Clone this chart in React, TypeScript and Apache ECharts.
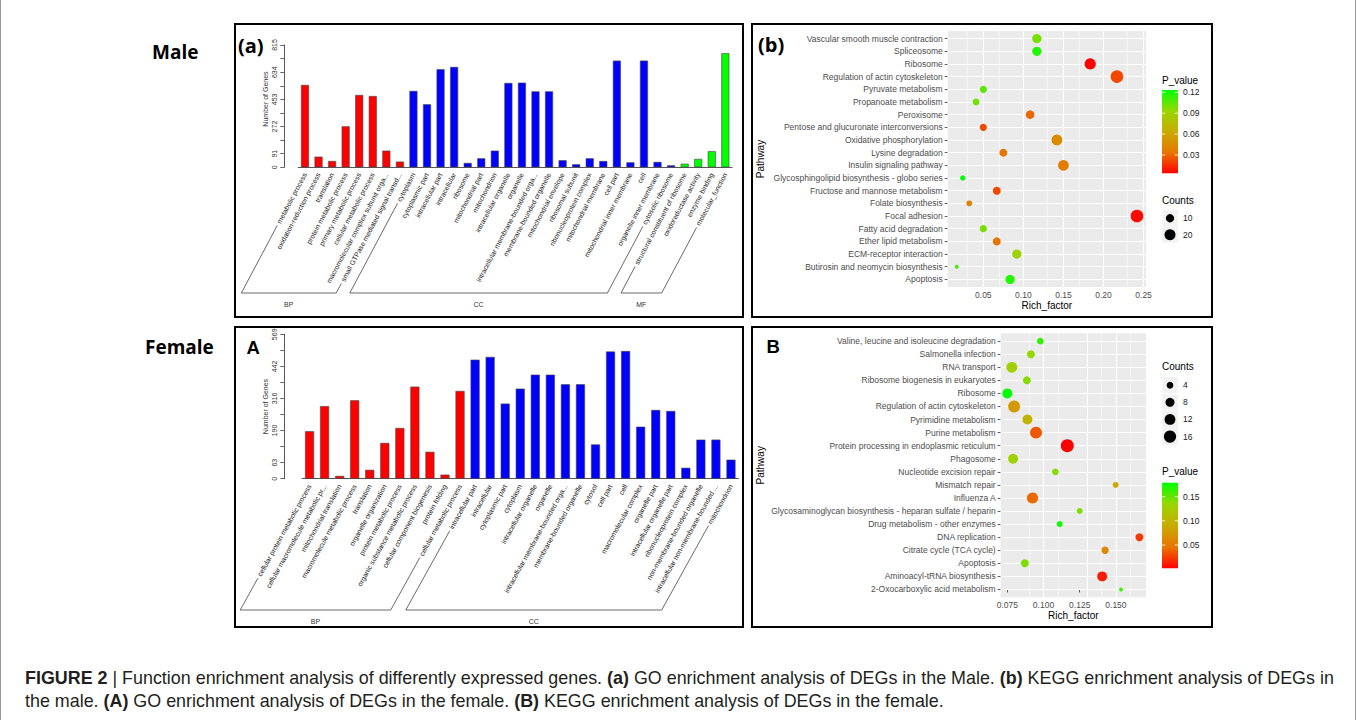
import React, { useEffect, useRef } from "react";
import * as echarts from "echarts";

const FONT = '"Liberation Sans", Arial, Helvetica, sans-serif';
const TITLE_FONT = '"Open Sans", "Liberation Sans", Arial, sans-serif';

// ---------- (a) GO enrichment, male ----------
const maleGoTerms = [
  "metabolic process", "oxidation-reduction process", "translation", "protein metabolic process",
  "primary metabolic process", "cellular metabolic process", "macromolecular complex subunit orga...",
  "small GTPase mediated signal transd...", "cytoplasm", "cytoplasmic part", "intracellular part",
  "intracellular", "ribosome", "mitochondrial part", "mitochondrion", "intracellular organelle",
  "organelle", "intracellular membrane-bounded orga...", "membrane-bounded organelle",
  "mitochondrial envelope", "ribosomal subunit", "ribonucleoprotein complex", "mitochondrial membrane",
  "cell part", "mitochondrial inner membrane", "cell", "organelle inner membrane", "cytosolic ribosome",
  "structural constituent of ribosome", "oxidoreductase activity", "enzyme binding", "molecular_function",
];
const maleGoGroups = [
  "BP", "BP", "BP", "BP", "BP", "BP", "BP", "BP",
  "CC", "CC", "CC", "CC", "CC", "CC", "CC", "CC", "CC", "CC",
  "CC", "CC", "CC", "CC", "CC", "CC", "CC", "CC", "CC", "CC",
  "MF", "MF", "MF", "MF",
];
const maleGoCounts = [
  549, 71, 42, 273, 482, 475, 111, 38, 509, 420, 653, 669, 29, 60, 111, 562,
  564, 506, 506, 47, 20, 60, 42, 711, 33, 711, 36, 13, 24, 56, 107, 760,
];
const maleGoMax = 815;
const maleGoTickLabels = ["0", "91", "", "272", "", "453", "", "634", "", "815"];

// ---------- (A) GO enrichment, female ----------
const femaleGoTerms = [
  "cellular protein metabolic process", "cellular macromolecule metabolic pr...", "mitochondrial translation",
  "macromolecule metabolic process", "translation", "organelle organization", "protein metabolic process",
  "organic substance metabolic process", "cellular component biogenesis", "protein folding",
  "cellular metabolic process", "intracellular part", "intracellular", "cytoplasmic part", "cytoplasm",
  "intracellular organelle", "organelle", "intracellular membrane-bounded orga...", "membrane-bounded organelle",
  "cytosol", "cell part", "cell", "macromolecular complex", "organelle part", "intracellular organelle part",
  "ribonucleoprotein complex", "non-membrane-bounded organelle", "intracellular non-membrane-bounded ...",
  "mitochondrion",
];
const femaleGoGroups = [
  "BP", "BP", "BP", "BP", "BP", "BP", "BP", "BP", "BP", "BP", "BP",
  "CC", "CC", "CC", "CC", "CC", "CC", "CC", "CC", "CC",
  "CC", "CC", "CC", "CC", "CC", "CC", "CC", "CC", "CC",
];
const femaleGoCounts = [
  187, 286, 11, 309, 35, 141, 200, 363, 106, 16, 346, 469, 480, 296, 355,
  410, 410, 372, 372, 135, 501, 503, 205, 271, 267, 43, 154, 154, 75,
];
const femaleGoMax = 569;
const femaleGoTickLabels = ["0", "63", "", "190", "", "316", "", "442", "", "569"];

// ---------- (b) KEGG enrichment, male (bottom -> top) ----------
const maleKeggPathways = [
  "Apoptosis", "Butirosin and neomycin biosynthesis", "ECM-receptor interaction", "Ether lipid metabolism",
  "Fatty acid degradation", "Focal adhesion", "Folate biosynthesis", "Fructose and mannose metabolism",
  "Glycosphingolipid biosynthesis - globo series", "Insulin signaling pathway", "Lysine degradation",
  "Oxidative phosphorylation", "Pentose and glucuronate interconversions", "Peroxisome",
  "Propanoate metabolism", "Pyruvate metabolism", "Regulation of actin cytoskeleton", "Ribosome",
  "Spliceosome", "Vascular smooth muscle contraction",
];
const maleKeggRich = [
  0.0834, 0.0168, 0.0918, 0.0668, 0.05, 0.2418, 0.0325, 0.0668, 0.0243, 0.15,
  0.075, 0.1418, 0.05, 0.1084, 0.0409, 0.05, 0.2168, 0.1834, 0.1168, 0.1168,
];
const maleKeggP = [
  0.117, 0.11, 0.09, 0.033, 0.1, 0.006, 0.04, 0.022, 0.1233, 0.037,
  0.033, 0.045, 0.022, 0.03, 0.1, 0.105, 0.022, 0.0037, 0.117, 0.1,
];
const maleKeggCounts = [13, 1, 13, 9, 7, 28, 4, 9, 3, 19, 9, 19, 7, 11, 6, 7, 28, 21, 13, 13];
const maleKeggTicks = [0.05, 0.1, 0.15, 0.2, 0.25];
const maleKeggMinor = [0.025, 0.075, 0.125, 0.175, 0.225];
const maleKeggPBreaks = [0.03, 0.06, 0.09, 0.12];
const maleKeggSizeBreaks = [10, 20];

// ---------- (B) KEGG enrichment, female (bottom -> top) ----------
const femaleKeggPathways = [
  "2-Oxocarboxylic acid metabolism", "Aminoacyl-tRNA biosynthesis", "Apoptosis", "Citrate cycle (TCA cycle)",
  "DNA replication", "Drug metabolism - other enzymes",
  "Glycosaminoglycan biosynthesis - heparan sulfate / heparin", "Influenza A", "Mismatch repair",
  "Nucleotide excision repair", "Phagosome", "Protein processing in endoplasmic reticulum",
  "Purine metabolism", "Pyrimidine metabolism", "Regulation of actin cytoskeleton", "Ribosome",
  "Ribosome biogenesis in eukaryotes", "RNA transport", "Salmonella infection",
  "Valine, leucine and isoleucine degradation",
];
const femaleKeggRich = [
  0.1535, 0.1405, 0.0871, 0.1425, 0.1662, 0.1112, 0.125, 0.0924, 0.1498, 0.1082,
  0.079, 0.1164, 0.0948, 0.0889, 0.0797, 0.075, 0.0885, 0.0781, 0.0913, 0.0978,
];
const femaleKeggP = [
  0.16, 0.0125, 0.143, 0.06, 0.023, 0.175, 0.143, 0.041, 0.09, 0.14,
  0.13, 0.0019, 0.034, 0.099, 0.076, 0.179, 0.14, 0.13, 0.135, 0.165,
];
const femaleKeggCounts = [1, 10, 6, 5, 6, 3, 3, 13, 3, 4, 10, 18, 15, 10, 15, 10, 6, 12, 6, 4];
const femaleKeggTicks = [0.075, 0.1, 0.125, 0.15];
const femaleKeggMinor = [0.0875, 0.1125, 0.1375, 0.1625];
const femaleKeggPBreaks = [0.05, 0.1, 0.15];
const femaleKeggSizeBreaks = [4, 8, 12, 16];

const groupColors: Record<string, string> = { BP: "#FF0000", CC: "#0000FF", MF: "#00FF00" };
const pColors = ["#FF0000", "#E87600", "#C9AB00", "#98D700", "#00FF00"];

const maleSize = (c: number) => 1.78 + 2.06 * Math.sqrt(c);
const femaleSize = (c: number) => 1.1 + 2.8 * Math.sqrt(c);

// ---------- layout ----------
const L = {
  a: { left: 298.2, top: 45, width: 433.9, height: 122.3, axisOffset: 3, yOffset: 13.9, rot: 62, baseY: 293, nameY: 304 },
  A: { left: 302, top: 334.3, width: 436.5, height: 144.4, axisOffset: 3.3, yOffset: 17.7, rot: 61, baseY: 610, nameY: 621 },
  b: { left: 947.7, top: 31, width: 198.3, height: 256 },
  B: { left: 1000.7, top: 333.3, width: 145.3, height: 264 },
};
const LABEL_MARGIN = 3;

function expandRange(vals: number[]) {
  const mn = Math.min(...vals);
  const mx = Math.max(...vals);
  const pad = (mx - mn) * 0.05;
  return [mn - pad, mx + pad];
}

let measureCtx: CanvasRenderingContext2D | null = null;
function textWidth(t: string, size: number, weight = "normal", family = FONT) {
  if (!measureCtx) measureCtx = document.createElement("canvas").getContext("2d");
  measureCtx!.font = `${weight} ${size}px ${family}`;
  return measureCtx!.measureText(t).width;
}

function textEl(text: string, x: number, y: number, o: any = {}) {
  return {
    type: "text",
    x,
    y,
    rotation: o.rotation || 0,
    z: 100,
    silent: true,
    style: {
      text,
      fontSize: o.size || 10,
      fontFamily: o.family || FONT,
      fontWeight: o.weight || "normal",
      fill: o.color || "#000",
      align: o.align || "left",
      verticalAlign: o.valign || "middle",
      rich: o.rich,
    },
  };
}

function barAxes(gridIndex: number, terms: string[], max: number, tickLabels: string[], lay: any) {
  const n = tickLabels.length - 1;
  const ticks = tickLabels.map((_, k) => (max * k) / n);
  const xAxis = {
    type: "category",
    gridIndex,
    data: terms,
    offset: lay.axisOffset,
    axisLine: { lineStyle: { color: "#444", width: 0.9 } },
    axisTick: { length: 3, lineStyle: { color: "#444", width: 0.8 } },
    axisLabel: { interval: 0, rotate: lay.rot, fontSize: 7, color: "#222", margin: LABEL_MARGIN, fontFamily: FONT },
  };
  const yAxis = {
    type: "value",
    gridIndex,
    min: 0,
    max,
    offset: lay.yOffset,
    axisLine: { show: true, lineStyle: { color: "#444", width: 0.9 } },
    axisTick: { show: true, length: 4, customValues: ticks, lineStyle: { color: "#444", width: 0.8 } },
    axisLabel: {
      customValues: ticks,
      rotate: 90,
      fontSize: 7,
      color: "#333",
      margin: 6,
      fontFamily: FONT,
      formatter: (v: number) => tickLabels[Math.round((v * n) / max)] || "",
    },
    splitLine: { show: false },
  };
  return { xAxis, yAxis };
}

function keggAxes(gridIndex: number, pathways: string[], rich: number[], ticks: number[], decimals: number, nameGapY: number) {
  const [mn, mx] = expandRange(rich);
  const idx = pathways.map((_, i) => i);
  const xAxis = {
    type: "value",
    gridIndex,
    min: mn,
    max: mx,
    axisLine: { show: false },
    axisTick: { show: true, length: 3, customValues: ticks, lineStyle: { color: "#333", width: 0.8 } },
    axisLabel: {
      customValues: ticks,
      fontSize: 8.5,
      color: "#4D4D4D",
      margin: 3.5,
      fontFamily: FONT,
      formatter: (v: number) => v.toFixed(decimals),
    },
    splitLine: { show: false },
    name: "Rich_factor",
    nameLocation: "middle",
    nameGap: 13.5,
    nameTextStyle: { fontSize: 10, color: "#000", fontFamily: FONT },
  };
  const yAxis = {
    type: "value",
    gridIndex,
    min: -0.6,
    max: pathways.length - 1 + 0.6,
    axisLine: { show: false },
    axisTick: { show: true, length: 3, customValues: idx, lineStyle: { color: "#333", width: 0.8 } },
    axisLabel: {
      customValues: idx,
      fontSize: 8.5,
      color: "#4D4D4D",
      margin: 5,
      fontFamily: FONT,
      formatter: (v: number) => pathways[Math.round(v)] || "",
    },
    splitLine: { show: false },
    name: "Pathway",
    nameLocation: "middle",
    nameRotate: 90,
    nameGap: nameGapY,
    nameTextStyle: { fontSize: 10, color: "#000", fontFamily: FONT },
  };
  return { xAxis, yAxis };
}

function keggSeries(xAxisIndex: number, pathways: string[], rich: number[], p: number[], counts: number[], sizeFn: (c: number) => number, majors: number[], minors: number[]) {
  const data = pathways.map((_, i) => [rich[i], i, p[i], counts[i]]);
  const lines: any[] = [];
  majors.forEach((v) => lines.push({ xAxis: v, lineStyle: { width: 1, color: "#FFFFFF", type: "solid" } }));
  minors.forEach((v) => lines.push({ xAxis: v, lineStyle: { width: 0.5, color: "#FFFFFF", type: "solid" } }));
  pathways.forEach((_, i) => lines.push({ yAxis: i, lineStyle: { width: 1, color: "#FFFFFF", type: "solid" } }));
  return {
    type: "scatter",
    xAxisIndex,
    yAxisIndex: xAxisIndex,
    z: 10,
    data,
    symbol: "circle",
    symbolSize: (val: number[]) => sizeFn(val[3]),
    itemStyle: { opacity: 1 },
    markLine: {
      silent: true,
      symbol: ["none", "none"],
      label: { show: false },
      lineStyle: { color: "#FFFFFF", type: "solid" },
      emphasis: { disabled: true },
      data: lines,
    },
  };
}

function buildOption() {
  const a = barAxes(0, maleGoTerms, maleGoMax, maleGoTickLabels, L.a);
  const b = keggAxes(1, maleKeggPathways, maleKeggRich, maleKeggTicks, 2, 182.7);
  const A = barAxes(2, femaleGoTerms, femaleGoMax, femaleGoTickLabels, L.A);
  const B = keggAxes(3, femaleKeggPathways, femaleKeggRich, femaleKeggTicks, 3, 235.7);
  return {
    animation: false,
    backgroundColor: "#FFFFFF",
    textStyle: { fontFamily: FONT },
    grid: [
      { left: L.a.left, top: L.a.top, width: L.a.width, height: L.a.height },
      { left: L.b.left, top: L.b.top, width: L.b.width, height: L.b.height, show: true, backgroundColor: "#EBEBEB", borderWidth: 0 },
      { left: L.A.left, top: L.A.top, width: L.A.width, height: L.A.height },
      { left: L.B.left, top: L.B.top, width: L.B.width, height: L.B.height, show: true, backgroundColor: "#EBEBEB", borderWidth: 0 },
    ],
    xAxis: [a.xAxis, b.xAxis, A.xAxis, B.xAxis],
    yAxis: [a.yAxis, b.yAxis, A.yAxis, B.yAxis],
    visualMap: [
      { type: "continuous", show: false, seriesIndex: 1, dimension: 2, min: Math.min(...maleKeggP), max: Math.max(...maleKeggP), inRange: { color: pColors } },
      { type: "continuous", show: false, seriesIndex: 3, dimension: 2, min: Math.min(...femaleKeggP), max: Math.max(...femaleKeggP), inRange: { color: pColors } },
    ],
    series: [
      {
        type: "bar",
        xAxisIndex: 0,
        yAxisIndex: 0,
        barCategoryGap: "41%",
        data: maleGoCounts.map((v, i) => ({ value: v, itemStyle: { color: groupColors[maleGoGroups[i]] } })),
        itemStyle: { borderColor: "#444", borderWidth: 0.6 },
      },
      keggSeries(1, maleKeggPathways, maleKeggRich, maleKeggP, maleKeggCounts, maleSize, maleKeggTicks, maleKeggMinor),
      {
        type: "bar",
        xAxisIndex: 2,
        yAxisIndex: 2,
        barCategoryGap: "40%",
        data: femaleGoCounts.map((v, i) => ({ value: v, itemStyle: { color: groupColors[femaleGoGroups[i]] } })),
        itemStyle: { borderColor: "#444", borderWidth: 0.6 },
      },
      keggSeries(3, femaleKeggPathways, femaleKeggRich, femaleKeggP, femaleKeggCounts, femaleSize, femaleKeggTicks, femaleKeggMinor),
    ],
  };
}

function brackets(chart: any, xAxisIndex: number, terms: string[], groups: string[], lay: any) {
  const th = (lay.rot * Math.PI) / 180;
  const c = Math.cos(th);
  const s = Math.sin(th);
  const anchorY = lay.top + lay.height + lay.axisOffset + LABEL_MARGIN;
  const els: any[] = [];
  const names = groups.filter((g, i) => groups.indexOf(g) === i);
  names.forEach((g) => {
    const i0 = groups.indexOf(g);
    const i1 = groups.lastIndexOf(g);
    const x0 = chart.convertToPixel({ xAxisIndex }, terms[i0]);
    const x1 = chart.convertToPixel({ xAxisIndex }, terms[i1]);
    const end = (x: number, t: string) => {
      const w = textWidth(t, 7) + 2.5;
      return [x - w * c, anchorY + w * s];
    };
    const t = (lay.baseY - anchorY) / s;
    const b0 = [x0 - t * c, lay.baseY];
    const b1 = [x1 - t * c, lay.baseY];
    els.push({
      type: "polyline",
      z: 50,
      silent: true,
      shape: { points: [end(x0, terms[i0]), b0, b1, end(x1, terms[i1])] },
      style: { stroke: "#444", lineWidth: 0.8, fill: "none" },
    });
    els.push(textEl(g, (b0[0] + b1[0]) / 2, lay.nameY, { size: 7, color: "#333", align: "center" }));
  });
  return els;
}

function colorbar(x: number, top: number, w: number, h: number, p: number[], breaks: number[], titleY: number) {
  const pmin = Math.min(...p);
  const pmax = Math.max(...p);
  const els: any[] = [textEl("P_value", x, titleY, { size: 10, color: "#000" })];
  els.push({
    type: "rect",
    z: 50,
    silent: true,
    shape: { x, y: top, width: w, height: h },
    style: {
      fill: new echarts.graphic.LinearGradient(0, 1, 0, 0, pColors.map((col, i) => ({ offset: i / (pColors.length - 1), color: col }))),
    },
  });
  breaks.forEach((v) => {
    const y = top + h - ((v - pmin) / (pmax - pmin)) * h;
    els.push({ type: "line", z: 51, silent: true, shape: { x1: x, y1: y, x2: x + w * 0.2, y2: y }, style: { stroke: "#FFFFFF", lineWidth: 0.8 } });
    els.push({ type: "line", z: 51, silent: true, shape: { x1: x + w * 0.8, y1: y, x2: x + w, y2: y }, style: { stroke: "#FFFFFF", lineWidth: 0.8 } });
    els.push(textEl(v.toFixed(2), x + w + 5, y, { size: 8.5, color: "#1A1A1A" }));
  });
  return els;
}

function sizeLegend(x: number, top: number, w: number, kh: number, counts: number[], sizeFn: (c: number) => number, titleY: number) {
  const els: any[] = [textEl("Counts", x, titleY, { size: 10, color: "#000" })];
  counts.forEach((cnt, i) => {
    const y = top + i * kh;
    els.push({ type: "rect", z: 50, silent: true, shape: { x, y, width: w, height: kh }, style: { fill: "#F2F2F2", stroke: "#FFFFFF", lineWidth: 0.5 } });
    els.push({ type: "circle", z: 51, silent: true, shape: { cx: x + w / 2, cy: y + kh / 2, r: sizeFn(cnt) / 2 }, style: { fill: "#000000" } });
    els.push(textEl(String(cnt), x + w + 5, y + kh / 2, { size: 8.5, color: "#1A1A1A" }));
  });
  return els;
}

function buildGraphics(chart: any) {
  const els: any[] = [];
  // outer figure frame
  els.push({ type: "line", z: 100, silent: true, shape: { x1: 0.5, y1: 0, x2: 0.5, y2: 720 }, style: { stroke: "#9A9A9A", lineWidth: 1 } });
  els.push({ type: "line", z: 100, silent: true, shape: { x1: 1355.5, y1: 0, x2: 1355.5, y2: 720 }, style: { stroke: "#9A9A9A", lineWidth: 1 } });
  // panel boxes
  const boxes = [
    [235, 24, 508, 293],
    [752, 24, 460, 293],
    [235, 327, 508, 300],
    [752, 327, 460, 300],
  ];
  boxes.forEach(([x, y, w, h]) =>
    els.push({ type: "rect", z: 100, silent: true, shape: { x, y, width: w, height: h }, style: { fill: "none", stroke: "#000000", lineWidth: 2 } })
  );
  // sex labels and panel letters
  els.push(textEl("Male", 152, 52, { size: 19, weight: "bold", family: TITLE_FONT }));
  els.push(textEl("Female", 145, 347, { size: 19, weight: "bold", family: TITLE_FONT }));
  els.push(textEl("(a)", 238, 45, { size: 20, weight: "bold", family: TITLE_FONT }));
  els.push(textEl("(b)", 758, 44, { size: 20, weight: "bold", family: TITLE_FONT }));
  els.push(textEl("A", 246.5, 347, { size: 18.5, weight: "bold" }));
  els.push(textEl("B", 766.5, 346, { size: 18.5, weight: "bold" }));
  // bar chart y-axis titles
  els.push(textEl("Number of Genes", 265, 99, { size: 7, color: "#333", align: "center", rotation: Math.PI / 2 }));
  els.push(textEl("Number of Genes", 265, 406.5, { size: 7, color: "#333", align: "center", rotation: Math.PI / 2 }));
  // group brackets
  els.push(...brackets(chart, 0, maleGoTerms, maleGoGroups, L.a));
  els.push(...brackets(chart, 2, femaleGoTerms, femaleGoGroups, L.A));
  // legends
  els.push(...colorbar(1162, 90, 16, 83.3, maleKeggP, maleKeggPBreaks, 80));
  els.push(...sizeLegend(1162, 210, 16, 16.5, maleKeggSizeBreaks, maleSize, 200));
  els.push(...sizeLegend(1162, 376.7, 16, 17.1, femaleKeggSizeBreaks, femaleSize, 366.7));
  els.push(...colorbar(1162, 482.7, 16, 85.6, femaleKeggP, femaleKeggPBreaks, 471.7));
  // caption
  const seg1 = [
    ["FIGURE 2", true], [" | Function enrichment analysis of differently expressed genes. ", false], ["(a)", true],
    [" GO enrichment analysis of DEGs in the Male. ", false], ["(b)", true], [" KEGG enrichment analysis of DEGs in", false],
  ] as [string, boolean][];
  const seg2 = [
    ["the male. ", false], ["(A)", true], [" GO enrichment analysis of DEGs in the female. ", false], ["(B)", true],
    [" KEGG enrichment analysis of DEGs in the female.", false],
  ] as [string, boolean][];
  const w100 = seg1.reduce((acc, [t, b]) => acc + textWidth(t, 100, b ? "bold" : "normal"), 0);
  const capSize = Math.min(19.5, Math.max(13, (1310 / w100) * 100));
  const toRich = (segs: [string, boolean][]) => segs.map(([t, b]) => (b ? `{b|${t}}` : `{n|${t}}`)).join("");
  const rich = {
    b: { fontWeight: "bold", fontSize: capSize, fontFamily: FONT, fill: "#231F20" },
    n: { fontWeight: "normal", fontSize: capSize, fontFamily: FONT, fill: "#231F20" },
  };
  els.push(textEl(toRich(seg1), 25, 678, { size: capSize, color: "#231F20", rich }));
  els.push(textEl(toRich(seg2), 25, 701, { size: capSize, color: "#231F20", rich }));
  return els;
}

export default function App() {
  const ref = useRef<HTMLDivElement>(null);
  useEffect(() => {
    document.body.style.margin = "0";
    const chart = echarts.init(ref.current as HTMLDivElement, null, { renderer: "svg" });
    chart.setOption(buildOption() as any);
    chart.setOption({ graphic: buildGraphics(chart) } as any);
    return () => chart.dispose();
  }, []);
  return <div ref={ref} style={{ width: 1357, height: 720, background: "#FFFFFF" }} />;
}
